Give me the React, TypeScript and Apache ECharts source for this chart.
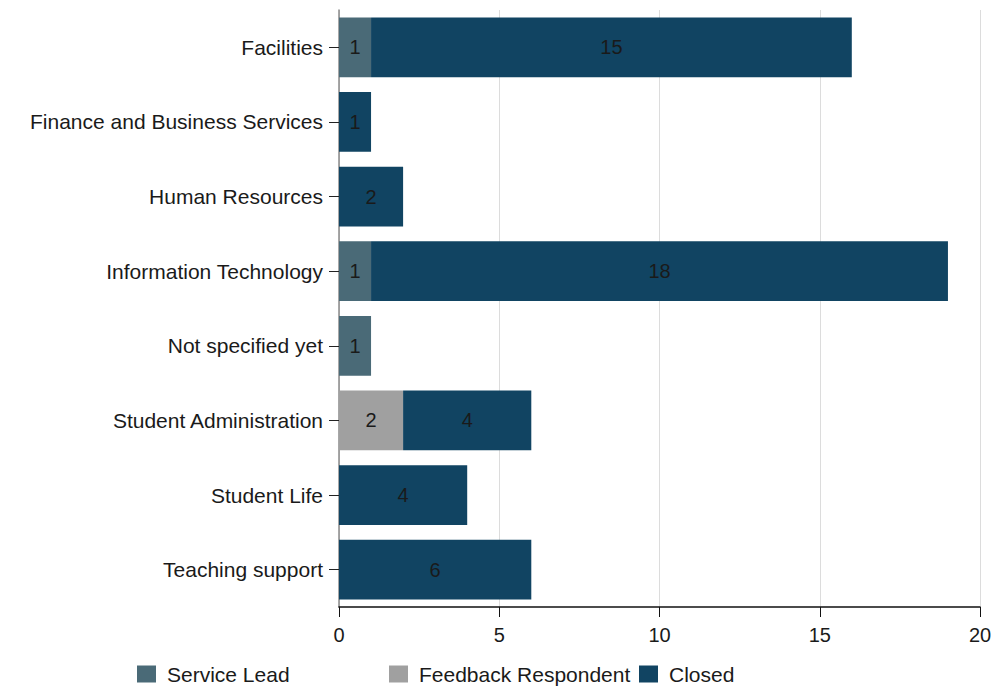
import React, { useEffect, useRef } from "react";
import * as echarts from "echarts";

const categories = [
  "Facilities",
  "Finance and Business Services",
  "Human Resources",
  "Information Technology",
  "Not specified yet",
  "Student Administration",
  "Student Life",
  "Teaching support",
];
const serviceLead = [1, null, null, 1, 1, null, null, null];
const feedbackRespondent = [null, null, null, null, null, 2, null, null];
const closed = [15, 1, 2, 18, null, 4, 4, 6];
const xTicks = { min: 0, max: 20, interval: 5 };

const FONT = "'Liberation Sans', Arial, Helvetica, sans-serif";

export default function App() {
  const ref = useRef<HTMLDivElement>(null);
  useEffect(() => {
    document.body.style.margin = "0";
    const chart = echarts.init(ref.current!, null, { renderer: "svg" });
    const label = {
      show: true,
      position: "inside",
      color: "#1a1a1a",
      fontSize: 20,
      fontFamily: FONT,
    };
    const mkSeries = (name: string, data: any[], color: string) => ({
      name,
      type: "bar",
      stack: "total",
      data,
      barCategoryGap: "20%",
      itemStyle: { color },
      label,
      emphasis: { disabled: true },
    });
    const legendBase = {
      orient: "horizontal",
      top: 663,
      padding: 0,
      itemWidth: 19,
      itemHeight: 17,
      icon: "rect",
      textStyle: {
        fontSize: 21,
        lineHeight: 22,
        fontFamily: FONT,
        color: "#1a1a1a",
        padding: [0, 0, 0, 6],
      },
    };
    chart.setOption({
      animation: false,
      grid: { left: 339, right: 25, top: 10, bottom: 80 },
      legend: [
        { ...legendBase, left: 137, data: ["Service Lead"] },
        { ...legendBase, left: 389, data: ["Feedback Respondent"] },
        { ...legendBase, left: 639, data: ["Closed"] },
      ],
      xAxis: {
        type: "value",
        min: xTicks.min,
        max: xTicks.max,
        interval: xTicks.interval,
        axisLine: { show: true, lineStyle: { color: "#111", width: 1.5 } },
        axisTick: { show: true, length: 10, lineStyle: { color: "#111" } },
        axisLabel: { fontSize: 20, fontFamily: FONT, color: "#1a1a1a", margin: 18 },
        splitLine: { show: true, lineStyle: { color: "#dcdcdc", width: 1 } },
      },
      yAxis: {
        type: "category",
        data: categories,
        inverse: true,
        axisLine: { show: true, lineStyle: { color: "#8a8a8a", width: 1.5 } },
        axisTick: { show: true, alignWithLabel: true, length: 10, lineStyle: { color: "#222" } },
        axisLabel: { fontSize: 21, fontFamily: FONT, color: "#1a1a1a", margin: 16 },
      },
      series: [
        mkSeries("Service Lead", serviceLead, "#4a6a77"),
        mkSeries("Feedback Respondent", feedbackRespondent, "#a0a0a0"),
        mkSeries("Closed", closed, "#114462"),
      ],
    });
    return () => chart.dispose();
  }, []);
  return <div ref={ref} style={{ width: 1005, height: 687 }} />;
}
